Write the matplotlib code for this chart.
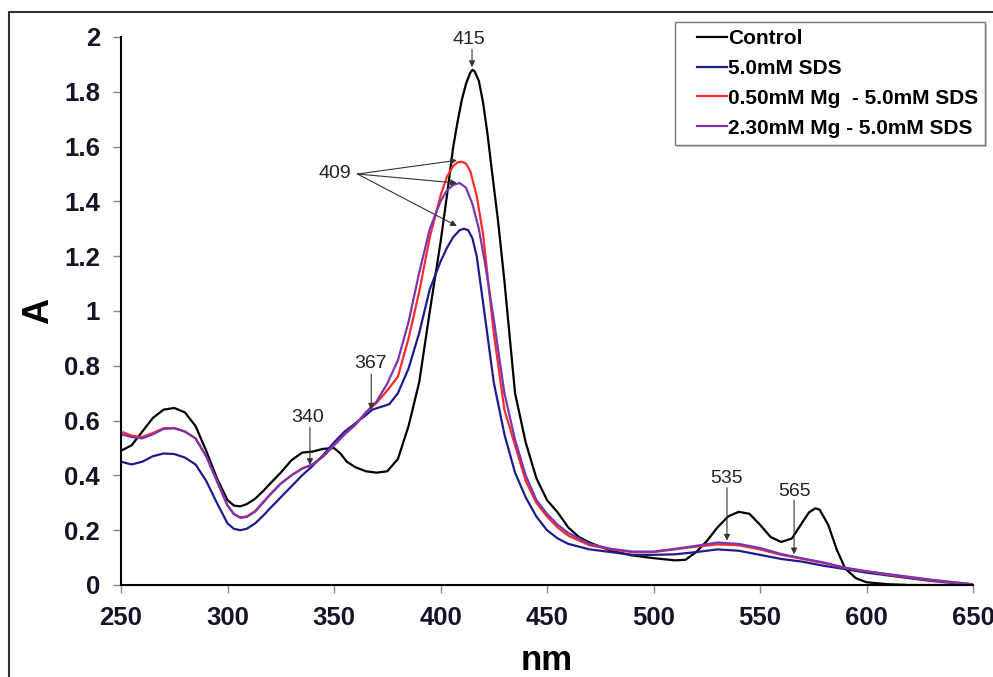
import matplotlib
matplotlib.use('Agg')
import matplotlib.pyplot as plt
from matplotlib.lines import Line2D
from matplotlib.patches import Rectangle

plt.rcParams['font.family'] = ['Liberation Sans', 'DejaVu Sans']

# Absorbance spectra
wl_ctrl = [250, 255, 260, 265, 270, 275, 280, 285, 290, 295, 300, 303, 306, 309, 313, 317, 320,
           325, 330, 335, 340, 345, 350, 353, 356, 360, 365, 370, 375, 380, 385, 390,
           395, 400, 403, 406, 408, 410, 412, 414, 415, 416, 418, 420, 422, 424, 427, 430, 435, 440, 445,
           450, 455, 460, 465, 470, 480, 490, 500, 510, 515, 520, 525, 530, 535, 540,
           545, 550, 555, 560, 565, 570, 573, 576, 578, 582, 586, 590, 595, 600, 610, 620, 650]
a_ctrl = [0.49, 0.51, 0.56, 0.61, 0.64, 0.646, 0.63, 0.58, 0.49, 0.39, 0.31, 0.29, 0.287, 0.295, 0.315, 0.345, 0.37,
          0.41, 0.455, 0.483, 0.487, 0.497, 0.50, 0.48, 0.45, 0.43, 0.415, 0.41, 0.415, 0.46, 0.58, 0.74,
          1.00, 1.25, 1.42, 1.60, 1.69, 1.77, 1.83, 1.87, 1.88, 1.875, 1.84, 1.76, 1.65, 1.52, 1.33, 1.11, 0.70, 0.52, 0.39,
          0.31, 0.265, 0.21, 0.175, 0.155, 0.125, 0.108, 0.098, 0.09, 0.092, 0.12, 0.16, 0.21, 0.25, 0.267,
          0.26, 0.22, 0.175, 0.157, 0.17, 0.23, 0.265, 0.28, 0.275, 0.22, 0.13, 0.06, 0.025, 0.01, 0.003, 0.0, 0.0]

wl_sds = [250, 255, 260, 265, 270, 275, 280, 285, 290, 295, 300, 303, 306, 309, 313, 317, 320,
          325, 330, 335, 340, 345, 350, 355, 360, 365, 368, 372, 376, 380, 385, 390,
          395, 400, 403, 406, 409, 411, 413, 415, 417, 420, 425, 430, 435, 440, 445, 450,
          455, 460, 470, 480, 490, 500, 510, 520, 530, 540, 550, 560, 570, 580, 590,
          600, 610, 620, 630, 640, 650]
a_sds = [0.45, 0.44, 0.45, 0.47, 0.48, 0.478, 0.465, 0.44, 0.38, 0.30, 0.225, 0.205, 0.20, 0.205, 0.225, 0.255, 0.28,
         0.32, 0.36, 0.40, 0.435, 0.475, 0.52, 0.56, 0.59, 0.62, 0.64, 0.65, 0.66, 0.70, 0.79, 0.92,
         1.08, 1.18, 1.23, 1.27, 1.295, 1.30, 1.295, 1.265, 1.20, 1.03, 0.74, 0.55, 0.41, 0.32, 0.25, 0.20,
         0.17, 0.15, 0.13, 0.12, 0.11, 0.11, 0.112, 0.12, 0.13, 0.125, 0.11, 0.095, 0.085, 0.07, 0.058,
         0.045, 0.035, 0.025, 0.015, 0.008, 0.0]

wl_mg050 = [250, 255, 260, 265, 270, 275, 280, 285, 290, 295, 300, 303, 306, 309, 313, 317, 320,
            325, 330, 335, 340, 345, 350, 355, 360, 365, 370, 375, 380, 385, 390, 395,
            400, 403, 406, 408, 410, 412, 414, 417, 420, 425, 430, 435, 440, 445, 450, 455,
            460, 470, 480, 490, 500, 510, 520, 530, 540, 550, 560, 570, 580, 590, 600,
            610, 620, 630, 640, 650]
a_mg050 = [0.56, 0.545, 0.54, 0.555, 0.572, 0.573, 0.56, 0.535, 0.47, 0.38, 0.29, 0.26, 0.247, 0.25, 0.27, 0.305, 0.33,
           0.37, 0.40, 0.425, 0.44, 0.47, 0.51, 0.55, 0.585, 0.63, 0.665, 0.71, 0.76, 0.90, 1.07, 1.27,
           1.42, 1.49, 1.53, 1.542, 1.545, 1.538, 1.51, 1.42, 1.28, 0.92, 0.64, 0.51, 0.38, 0.30, 0.25, 0.21,
           0.18, 0.145, 0.13, 0.12, 0.12, 0.13, 0.14, 0.148, 0.145, 0.13, 0.11, 0.095, 0.08, 0.062, 0.05,
           0.038, 0.028, 0.018, 0.01, 0.002]

wl_mg230 = [250, 255, 260, 265, 270, 275, 280, 285, 290, 295, 300, 303, 306, 309, 313, 317, 320,
            325, 330, 335, 340, 345, 350, 355, 360, 365, 370, 375, 380, 385, 390, 395,
            400, 403, 406, 409, 412, 415, 418, 421, 425, 430, 435, 440, 445, 450, 455,
            460, 470, 480, 490, 500, 510, 520, 530, 540, 550, 560, 570, 580, 590, 600,
            610, 620, 630, 640, 650]
a_mg230 = [0.55, 0.54, 0.535, 0.55, 0.57, 0.572, 0.56, 0.535, 0.47, 0.38, 0.29, 0.258, 0.245, 0.248, 0.268, 0.303, 0.33,
           0.37, 0.40, 0.425, 0.44, 0.47, 0.51, 0.55, 0.585, 0.63, 0.67, 0.735, 0.82, 0.96, 1.14, 1.30,
           1.40, 1.44, 1.46, 1.467, 1.45, 1.39, 1.30, 1.17, 0.97, 0.70, 0.53, 0.40, 0.31, 0.26, 0.22,
           0.19, 0.15, 0.132, 0.122, 0.122, 0.132, 0.143, 0.155, 0.15, 0.135, 0.113, 0.097, 0.082, 0.063, 0.05,
           0.04, 0.03, 0.02, 0.011, 0.003]

labels = ['Control', '5.0mM SDS', '0.50mM Mg  - 5.0mM SDS', '2.30mM Mg - 5.0mM SDS']
colors = ['black', '#1c1c8e', '#ff2a2a', '#7a36b0']

# peak annotations: label text, text position, arrow start then arrow tips
peak_labels = ['415', '409', '367', '340', '535', '565']
peak_text_xy = [(413.5, 1.99), (350.5, 1.50), (367, 0.81), (337.8, 0.61), (534.5, 0.39), (566, 0.34)]
peak_tips = [[(414.8, 1.955), (414.8, 1.89)],
             [(361, 1.50), (407.7, 1.55), (407.7, 1.467), (407.7, 1.31)],
             [(367.5, 0.77), (367.5, 0.64)],
             [(338.7, 0.575), (338.7, 0.438)],
             [(534.5, 0.355), (534.5, 0.162)],
             [(566, 0.31), (566, 0.112)]]

fig = plt.figure(figsize=(9.93, 6.77), dpi=100)
ax = fig.add_axes([121 / 993, 1 - 585 / 677, 852 / 993, 548 / 677])

series = [(wl_ctrl, a_ctrl), (wl_sds, a_sds), (wl_mg050, a_mg050), (wl_mg230, a_mg230)]
for (x, y), lab, c in zip(series, labels, colors):
    ax.plot(x, y, color=c, lw=1.6, label=lab, solid_joinstyle='round')

for lab, (tx, ty), pts in zip(peak_labels, peak_text_xy, peak_tips):
    ax.text(tx, ty, lab, ha='center', va='center', fontsize=14, color='#222222')
    start = pts[0]
    for tip in pts[1:]:
        ax.annotate('', xy=tip, xytext=start,
                    arrowprops=dict(arrowstyle='-|>', color='#333333', lw=0.8,
                                    mutation_scale=9, shrinkA=0, shrinkB=0))

ax.set_xlim(250, 650)
ax.set_ylim(0, 2)
ax.set_xticks(range(250, 651, 50))
ax.set_yticks([0, 0.2, 0.4, 0.6, 0.8, 1, 1.2, 1.4, 1.6, 1.8, 2])
ax.set_yticklabels(['0', '0.2', '0.4', '0.6', '0.8', '1', '1.2', '1.4', '1.6', '1.8', '2'])
ax.spines['top'].set_visible(False)
ax.spines['right'].set_visible(False)
ax.spines['left'].set_linewidth(1.5)
ax.spines['bottom'].set_linewidth(1.5)
ax.tick_params(direction='out', length=6, width=1, color='#888888', labelsize=18.5, pad=9)
for t in ax.get_xticklabels() + ax.get_yticklabels():
    t.set_fontweight('bold')
    t.set_color('#141428')

ax.set_xlabel('nm', fontsize=25, fontweight='bold', labelpad=10)
ax.set_ylabel('A', fontsize=26, fontweight='bold', labelpad=6)

# legend box drawn separately so the inner padding can follow the original
fig.add_artist(Rectangle((677 / 993, 1 - 147 / 677), 310 / 993, 123 / 677,
                         transform=fig.transFigure, facecolor='#d0d0d0', edgecolor='none', zorder=4))
fig.add_artist(Rectangle((675 / 993, 1 - 145 / 677), 310 / 993, 123 / 677,
                         transform=fig.transFigure, facecolor='white', edgecolor='#777777',
                         lw=1.0, zorder=5))
handles, _ = ax.get_legend_handles_labels()
leg = fig.legend(handles, labels, loc='upper left', bbox_to_anchor=(697 / 993, 1 - 29 / 677),
                 bbox_transform=fig.transFigure, prop={'weight': 'bold', 'size': 15},
                 handlelength=1.45, handletextpad=0.05, labelspacing=0.52,
                 borderpad=0, frameon=False, borderaxespad=0)
leg.set_zorder(6)

# outer frame of the original figure (cropped on right and bottom)
fig.add_artist(Line2D([9 / 993, 9 / 993, 1.0], [0.0, 1 - 12 / 677, 1 - 12 / 677],
                      transform=fig.transFigure, color='#333333', lw=1.5))

fig.savefig('out.png', dpi=100)
